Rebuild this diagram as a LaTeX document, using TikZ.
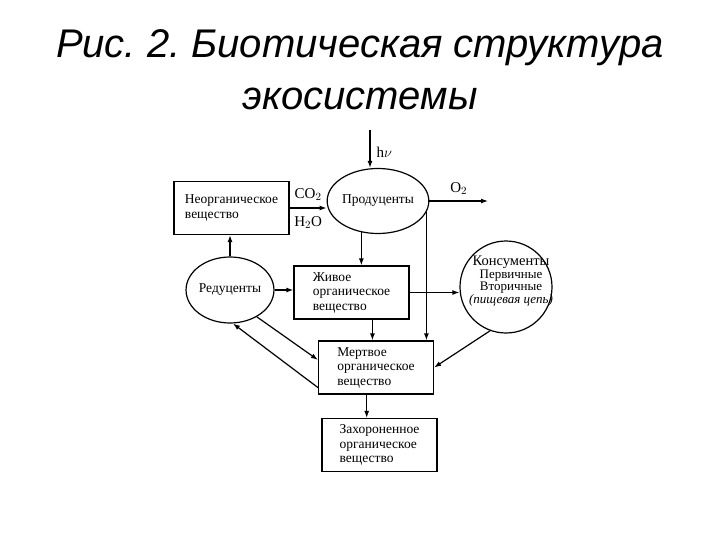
\documentclass[tikz,border=0pt]{standalone}
\usepackage{fontspec}
\setmainfont{Liberation Serif}
\newfontfamily\titlefont{Liberation Sans}
\usetikzlibrary{arrows.meta,calc,shapes.geometric}
\tikzset{
  box/.style  = {draw, line width=1.2pt, minimum width=115pt, minimum height=53pt,
                 align=left, inner sep=3pt, font=\fontsize{13.5}{14.5}\selectfont},
  ell/.style  = {ellipse, draw, line width=1.2pt, inner sep=0pt, minimum width=86pt,
                 minimum height=65pt, font=\fontsize{13.5}{14.5}\selectfont},
  ar/.style   = {-{Latex[length=7pt,width=5pt]}, line width=1.2pt},
  lbl/.style  = {font=\fontsize{15}{16}\selectfont, inner sep=0pt},
}
\begin{document}
\frenchspacing
\begin{tikzpicture}[x=1pt,y=-1pt]
  \useasboundingbox (0,0) rectangle (720,540);
  \node[font=\titlefont\itshape\fontsize{40}{52}\selectfont, align=center] (title) at (360,70)
    {Рис. 2. Биотическая структура\\экосистемы};
  % boxes and ellipses
  \node[box] (inorg) at (231.5,208) {Неорганическое\\вещество};
  \node[ell] (prod) at (378,201) {Продуценты};
  \node[ell, minimum height=66pt] (red) at (230,290) {Редуценты};
  \node[box] (living) at (351.5,292.5) {Живое\\органическое\\вещество};
  \node[circle, draw, line width=1.2pt, minimum size=92pt] (cons) at (506,287) {};
  \node[font=\fontsize{13}{10}\selectfont, align=center, inner sep=0pt] (constxt) at (511,281)
    {{\fontsize{14.5}{10}\selectfont Консументы}\\Первичные\\Вторичные\\\textit{(пищевая цепь)}};
  \node[box] (dead) at (376,367.5) {Мертвое\\органическое\\вещество};
  \node[box] (buried) at (379.5,445) {Захороненное\\органическое\\вещество};
  % free ends
  \coordinate (sun) at (370,130);
  \coordinate (otwo) at (488,201);
  \coordinate (livout) at ($(living.south west)!0.68!(living.south east)$);
  \coordinate (deadout) at ($(dead.south west)!0.42!(dead.south east)$);
  \coordinate (deadin) at ($(dead.north west)!0.36!(dead.south west)$);
  \coordinate (deadback) at ($(dead.north west)!0.87!(dead.south west)$);
  % connectors
  \draw[ar] (sun) -- (sun |- prod.north) node[lbl, pos=0.6, right=6pt] {h$\nu$};
  \draw[ar] (prod.east) -- (otwo) node[lbl, midway, above=6pt] {O$_2$};
  \draw[ar] (inorg.east) -- (inorg.east -| prod.west)
    node[lbl, midway, above=7pt] {CO$_2$} node[lbl, midway, below=8pt] {H$_2$O};
  \draw[ar] (prod.-118) -- (prod.-118 |- living.north);
  \draw[ar] (prod.-13) -- (prod.-13 |- dead.north);
  \draw[ar] (red.north) -- (red.north |- inorg.south);
  \draw[ar] (red.east) -- (red.east -| living.west);
  \draw[ar] (living.east) -- (living.east -| cons.west);
  \draw[ar] (livout) -- (livout |- dead.north);
  \draw[ar] (cons.-110) -- (dead.east);
  \draw[ar] (red.-45) -- (deadin);
  \draw[ar] (deadback) -- (red.-85);
  \draw[ar] (deadout) -- (deadout |- buried.north);
\end{tikzpicture}
\end{document}
